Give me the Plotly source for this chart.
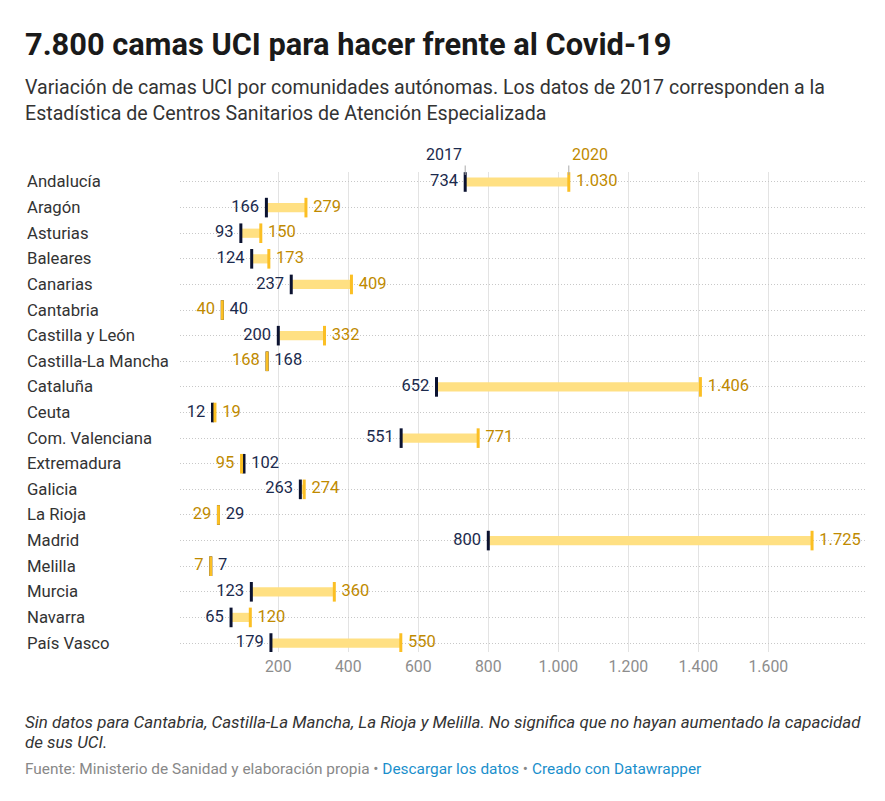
import plotly.graph_objects as go

regions = ["Andalucía", "Aragón", "Asturias", "Baleares", "Canarias", "Cantabria",
           "Castilla y León", "Castilla-La Mancha", "Cataluña", "Ceuta",
           "Com. Valenciana", "Extremadura", "Galicia", "La Rioja", "Madrid",
           "Melilla", "Murcia", "Navarra", "País Vasco"]
beds_2017 = [734, 166, 93, 124, 237, 40, 200, 168, 652, 12, 551, 102, 263, 29, 800, 7, 123, 65, 179]
beds_2020 = [1030, 279, 150, 173, 409, 40, 332, 168, 1406, 19, 771, 95, 274, 29, 1725, 7, 360, 120, 550]
series_names = ["2017", "2020"]
tick_values = [200, 400, 600, 800, 1000, 1200, 1400, 1600]

title = "7.800 camas UCI para hacer frente al Covid-19"
subtitle_lines = ["Variación de camas UCI por comunidades autónomas. Los datos de 2017 corresponden a la",
                  "Estadística de Centros Sanitarios de Atención Especializada"]
note_lines = ["Sin datos para Cantabria, Castilla-La Mancha, La Rioja y Melilla. No significa que no hayan aumentado la capacidad",
              "de sus UCI."]
source = "Fuente: Ministerio de Sanidad y elaboración propia"
links = ["Descargar los datos", "Creado con Datawrapper"]


def fmt(v):
    return f"{v:,}".replace(",", ".")


OFF = 8  # page body margin
W, H = 885 - OFF, 801 - OFF
# plot area in page pixels: x 180..865, y 172..652
L, R, T, B = 180 - OFF, 885 - 865, 172 - OFF, 801 - 652
PW, PH = W - L - R, H - T - B


def px(xp):
    return (xp - OFF - L) / PW


def py(yp):
    return (H - B - (yp - OFF)) / PH


NAVY_TXT = "#1b2a4d"
NAVY_MK = "#0b1230"
GOLD_TXT = "#c08a00"
GOLD_MK = "#fbbf24"
BAR = "#ffe083"
FONT = "Roboto"
TX = 23  # left text edge (compensating annotation padding)

idx = list(range(len(regions)))
diff = [b - a for a, b in zip(beds_2017, beds_2020)]

pos17 = ["middle left" if b > a else "middle right" for a, b in zip(beds_2017, beds_2020)]
pos20 = ["middle right" if b > a else "middle left" for a, b in zip(beds_2017, beds_2020)]

fig = go.Figure()
fig.add_trace(go.Bar(y=idx, x=diff, base=beds_2017, orientation="h", width=0.36,
                     marker=dict(color=BAR, line=dict(width=0)), hoverinfo="skip", showlegend=False))
fig.add_trace(go.Scatter(x=beds_2017, y=idx, mode="markers", name=series_names[0], showlegend=False,
                         marker=dict(symbol="line-ns", size=14, line=dict(width=3, color=NAVY_MK))))
fig.add_trace(go.Scatter(x=beds_2020, y=idx, mode="markers", name=series_names[1], showlegend=False,
                         marker=dict(symbol="line-ns", size=14, line=dict(width=3, color=GOLD_MK))))
fig.add_trace(go.Scatter(x=beds_2017, y=idx, mode="markers+text", text=[fmt(v) for v in beds_2017],
                         textposition=pos17, showlegend=False, hoverinfo="skip",
                         marker=dict(size=10, color="rgba(0,0,0,0)"),
                         textfont=dict(family=FONT, size=16.5, color=NAVY_TXT)))
fig.add_trace(go.Scatter(x=beds_2020, y=idx, mode="markers+text", text=[fmt(v) for v in beds_2020],
                         textposition=pos20, showlegend=False, hoverinfo="skip",
                         marker=dict(size=10, color="rgba(0,0,0,0)"),
                         textfont=dict(family=FONT, size=16.5, color=GOLD_TXT)))

ann = []
for i, name in enumerate(regions):
    ann.append(dict(x=px(TX + 2), xref="paper", y=i, yref="y", text=name, showarrow=False,
                    xanchor="left", yanchor="middle", font=dict(family=FONT, size=16.7, color="#333333")))

# column headers
ann.append(dict(x=beds_2017[0], xref="x", y=0, yref="y", text=series_names[0], showarrow=False,
                xanchor="right", yanchor="middle", yshift=27, xshift=-1,
                font=dict(family=FONT, size=16, color=NAVY_TXT)))
ann.append(dict(x=beds_2020[0], xref="x", y=0, yref="y", text=series_names[1], showarrow=False,
                xanchor="left", yanchor="middle", yshift=27, xshift=1,
                font=dict(family=FONT, size=16, color=GOLD_TXT)))
for v in (beds_2017[0], beds_2020[0]):
    ann.append(dict(x=v, xref="x", y=0, yref="y", text="", showarrow=True, arrowhead=0,
                    arrowwidth=1, arrowcolor="#aaaaaa", ax=0, ay=-18, standoff=7))

ann.append(dict(x=px(TX), xref="paper", y=py(45), yref="paper", text=f"<b>{title}</b>", showarrow=False,
                xanchor="left", yanchor="middle", font=dict(family=FONT, size=30.8, color="#1a1a1a")))
for k, line in enumerate(subtitle_lines):
    ann.append(dict(x=px(TX), xref="paper", y=py(88 + 25 * k), yref="paper", text=line, showarrow=False,
                    xanchor="left", yanchor="middle", font=dict(family=FONT, size=19.6, color="#333333")))
for k, line in enumerate(note_lines):
    ann.append(dict(x=px(TX), xref="paper", y=py(722 + 20 * k), yref="paper", text=f"<i>{line}</i>",
                    showarrow=False, xanchor="left", yanchor="middle",
                    font=dict(family=FONT, size=16.9, color="#333333")))
src_text = (f"<span style='color:#888888'>{source} • </span>"
            f"<span style='color:#1a8fcc'>{links[0]}</span>"
            f"<span style='color:#888888'> • </span>"
            f"<span style='color:#1a8fcc'>{links[1]}</span>")
ann.append(dict(x=px(TX), xref="paper", y=py(769), yref="paper", text=src_text, showarrow=False,
                xanchor="left", yanchor="middle", font=dict(family=FONT, size=15.4, color="#888888")))

x0 = (180 - 208.3) / 0.35
x1 = (865 - 208.3) / 0.35
fig.update_layout(
    width=W, height=H, margin=dict(l=L, r=R, t=T, b=B, autoexpand=False),
    paper_bgcolor="white", plot_bgcolor="white",
    font=dict(family=FONT),
    barmode="overlay",
    annotations=ann,
    xaxis=dict(range=[x0, x1], tickvals=tick_values, ticktext=[fmt(v) for v in tick_values],
               showgrid=True, gridcolor="#e3e3e3", gridwidth=1, zeroline=False, showline=False,
               ticks="", ticklabelstandoff=3,
               tickfont=dict(family=FONT, size=15.8, color="#8d8d8d"), fixedrange=True),
    yaxis=dict(range=[len(regions) - 1 + 0.35, -0.39], tickvals=idx, showticklabels=False,
               showgrid=True, gridcolor="#c8c8c8", gridwidth=1, griddash="1px,2px",
               zeroline=False, showline=False, ticks=""),
)

fig.write_html("out.html")
